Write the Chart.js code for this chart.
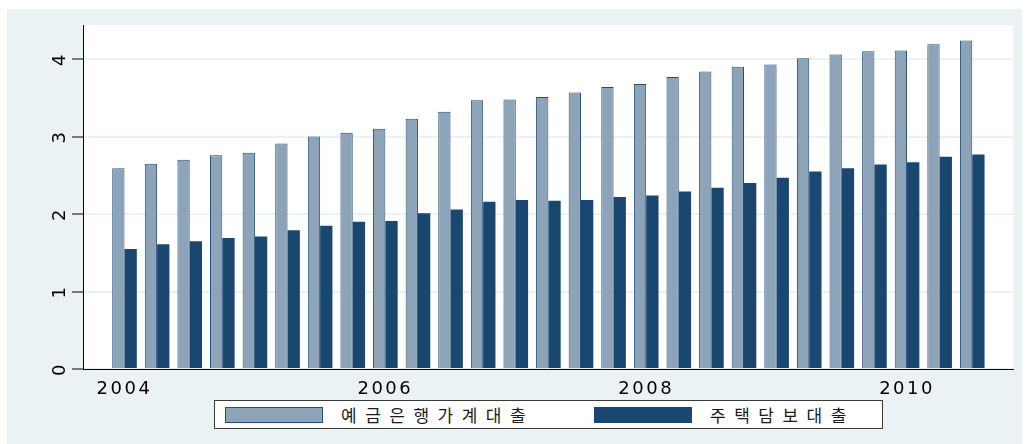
<!DOCTYPE html>
<html lang="ko">
<head>
<meta charset="utf-8">
<title>예금은행가계대출 / 주택담보대출</title>
<script src="https://cdn.jsdelivr.net/npm/chart.js@4.4.1/dist/chart.umd.min.js"></script>
<style>
    body { margin: 0; background: #fff; }
    #wrap { position: relative; width: 1029px; height: 444px; }
    #legend {
        position: absolute; left: 214px; top: 400px;
        width: 667px; height: 27px;
        border: 1px solid #3a3a3a; background: #fff;
        font-family: "Noto Sans CJK KR", sans-serif; font-size: 17px;
        letter-spacing: 8.5px; color: #1a1a1a;
    }
    .item { position: absolute; top: 0; height: 27px; display: flex; align-items: center; white-space: nowrap; }
    .sw { width: 96px; height: 14px; margin-right: 18px; }
</style>
</head>
<body>
<div id="wrap">
    <canvas id="loanChart" width="1029" height="444"></canvas>
    <div id="legend"></div>
</div>
<script>
const periods = [
    "2004Q1", "2004Q2", "2004Q3", "2004Q4", "2005Q1", "2005Q2", "2005Q3", "2005Q4",
    "2006Q1", "2006Q2", "2006Q3", "2006Q4", "2007Q1", "2007Q2", "2007Q3", "2007Q4",
    "2008Q1", "2008Q2", "2008Q3", "2008Q4", "2009Q1", "2009Q2", "2009Q3", "2009Q4",
    "2010Q1", "2010Q2", "2010Q3"
];
const householdLoans = [
    2.59, 2.65, 2.70, 2.76, 2.79, 2.91, 3.00, 3.05,
    3.10, 3.23, 3.32, 3.47, 3.48, 3.51, 3.57, 3.64,
    3.68, 3.77, 3.84, 3.90, 3.93, 4.01, 4.06, 4.10,
    4.11, 4.19, 4.24
];
const mortgageLoans = [
    1.55, 1.61, 1.65, 1.69, 1.71, 1.79, 1.85, 1.90,
    1.91, 2.01, 2.06, 2.16, 2.18, 2.17, 2.18, 2.22,
    2.24, 2.29, 2.34, 2.40, 2.47, 2.55, 2.59, 2.64,
    2.67, 2.74, 2.77
];
const seriesNames = ["예금은행가계대출", "주택담보대출"];
const yTicks = [0, 1, 2, 3, 4];
const xTickPos = [0, 8, 16, 24];
const xTickText = ["2004", "2006", "2008", "2010"];

const colors = ["#8ca3b8", "#1a476f"];
const borders = ["#23507a", "#1a476f"];

// stata-like frame: bluish gray graph region, white plot region
const stataBg = {
    id: "stataBg",
    beforeDraw(chart) {
        const { ctx, chartArea: a } = chart;
        ctx.save();
        ctx.fillStyle = "#fff";
        ctx.fillRect(0, 0, chart.width, chart.height);
        ctx.fillStyle = "#eaf2f3";
        ctx.fillRect(7, 9, 1015, 435);
        ctx.fillStyle = "#fff";
        ctx.fillRect(a.left, a.top, a.right - a.left, a.bottom - a.top);
        ctx.restore();
        ctx.letterSpacing = "2.5px";
    },
    afterDraw(chart) {
        chart.ctx.letterSpacing = "0px";
    }
};

const chart = new Chart(document.getElementById("loanChart"), {
    type: "bar",
    data: {
        datasets: [
            {
                label: seriesNames[0],
                data: householdLoans.map((v, i) => ({ x: i, y: v })),
                backgroundColor: colors[0],
                borderColor: borders[0],
                borderWidth: 1
            },
            {
                label: seriesNames[1],
                data: mortgageLoans.map((v, i) => ({ x: i, y: v })),
                backgroundColor: colors[1],
                borderColor: borders[1],
                borderWidth: 0
            }
        ]
    },
    options: {
        responsive: false,
        animation: false,
        layout: { padding: { left: 0, right: 16, top: 25, bottom: 45 } },
        datasets: { bar: { barPercentage: 1, categoryPercentage: 0.755 } },
        plugins: {
            legend: { display: false },
            tooltip: { callbacks: { title: items => periods[items[0].parsed.x] } }
        },
        scales: {
            x: {
                type: "linear",
                min: -1.273,
                max: 27.25,
                offset: false,
                afterFit(s) { s.height = 30; },
                afterBuildTicks(s) { s.ticks = xTickPos.map(v => ({ value: v })); },
                grid: { display: false },
                border: { display: true, color: "#000", width: 1, z: 1 },
                ticks: {
                    color: "#000",
                    font: { family: "DejaVu Sans", size: 18 },
                    padding: 2,
                    maxRotation: 0,
                    autoSkip: false,
                    callback: v => xTickText[xTickPos.indexOf(v)]
                }
            },
            y: {
                min: 0,
                max: 4.44,
                afterFit(s) { s.width = 83; },
                afterBuildTicks(s) { s.ticks = yTicks.map(v => ({ value: v })); },
                grid: { color: "#eaf2f3", lineWidth: 2, tickColor: "#000", tickLength: 11, tickWidth: 1 },
                border: { color: "#000", width: 1, z: 1 },
                ticks: {
                    color: "#000",
                    font: { family: "DejaVu Sans", size: 18 },
                    padding: 6,
                    minRotation: 90,
                    maxRotation: 90,
                    crossAlign: "center"
                }
            }
        }
    },
    plugins: [stataBg]
});

// html legend, spaced like the original
const legendBox = document.getElementById("legend");
const legendLeft = [10, 379];
chart.data.datasets.forEach((ds, i) => {
    const item = document.createElement("div");
    item.className = "item";
    item.style.left = legendLeft[i] + "px";
    item.innerHTML = `<span class="sw" style="background:${ds.backgroundColor};border:1px solid ${borders[i]}"></span><span>${ds.label}</span>`;
    legendBox.appendChild(item);
});
</script>
</body>
</html>
